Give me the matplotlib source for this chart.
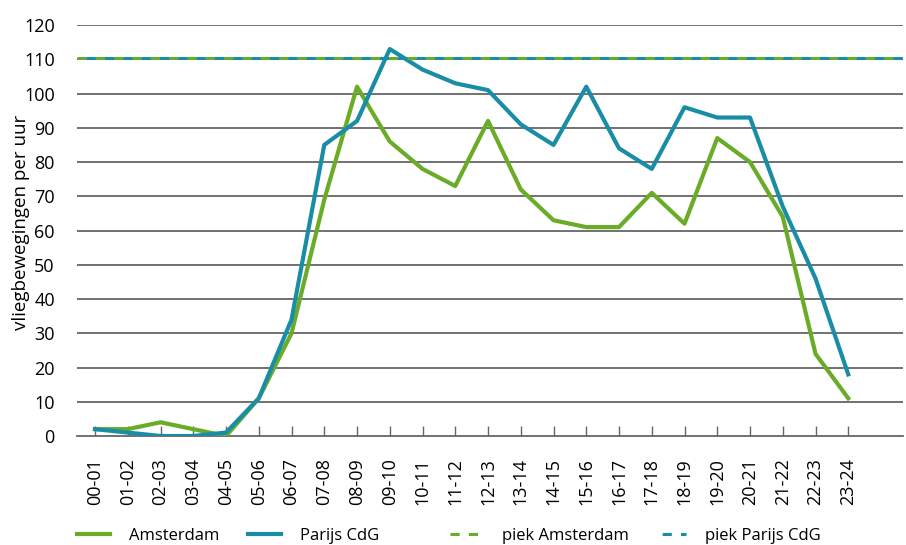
import numpy as np
import matplotlib.pyplot as plt

plt.rcParams['font.family'] = ['Open Sans', 'DejaVu Sans']

uren = ["00-01", "01-02", "02-03", "03-04", "04-05", "05-06", "06-07", "07-08",
        "08-09", "09-10", "10-11", "11-12", "12-13", "13-14", "14-15", "15-16",
        "16-17", "17-18", "18-19", "19-20", "20-21", "21-22", "22-23", "23-24"]
amsterdam = [2, 2, 4, 2, 0, 11, 30, 69, 102, 86, 78, 73, 92, 72, 63, 61,
             61, 71, 62, 87, 80, 64, 24, 11]
parijs = [2, 1, 0, 0, 1, 11, 34, 85, 92, 113, 107, 103, 101, 91, 85, 102,
          84, 78, 96, 93, 93, 67, 46, 18]
piek_amsterdam = 110.5
piek_parijs = 110.5

groen = "#6aab28"
blauw = "#1a8da6"
grijs = "#666666"

fig = plt.figure(figsize=(9.06, 5.45), dpi=100)
ax = fig.add_axes([0.085, 0.2, 0.912, 0.754])

x = np.arange(len(uren))
for v in range(10, 121, 10):
    ax.axhline(v, color=grijs, lw=1.3, zorder=1)

l1, = ax.plot(x, amsterdam, color=groen, lw=3, zorder=3)
l2, = ax.plot(x, parijs, color=blauw, lw=3, zorder=3)
l3 = ax.axhline(piek_amsterdam, color=groen, lw=2.2, linestyle=(0, (3, 3)), zorder=4)
l4 = ax.axhline(piek_parijs, color=blauw, lw=2.2, linestyle=(3, (3, 3)), zorder=4)

ax.set_xlim(-0.55, 24.68)
ax.set_ylim(0, 120)
ax.set_xticks(x)
ax.set_xticklabels(uren, rotation=90, fontsize=13)
ax.set_yticks(range(0, 121, 10))
ax.tick_params(axis="y", length=0, labelsize=13, pad=16)
ax.tick_params(axis="x", direction="in", length=7, width=1, color=grijs, pad=16)
for s in ["left", "right", "top"]:
    ax.spines[s].set_visible(False)
ax.spines["bottom"].set_color(grijs)
ax.spines["bottom"].set_linewidth(1.3)

fig.text(21 / 906, 1 - 222 / 545, "vliegbewegingen per uur", rotation=90,
         ha="center", va="center", fontsize=13.5)

# legenda: vier losse items zoals in het origineel
items = [(l1, "Amsterdam", 77), (l2, "Parijs CdG", 248),
         (l3, "piek Amsterdam", 450), (l4, "piek Parijs CdG", 653)]
for h, naam, px in items:
    lg = fig.legend([h], [naam], loc="center left",
                    bbox_to_anchor=(px / 906, 1 - 536 / 545), frameon=False,
                    fontsize=12, handlelength=2.0, handletextpad=1.1,
                    borderpad=0, borderaxespad=0)

fig.savefig("out.png", dpi=100)
